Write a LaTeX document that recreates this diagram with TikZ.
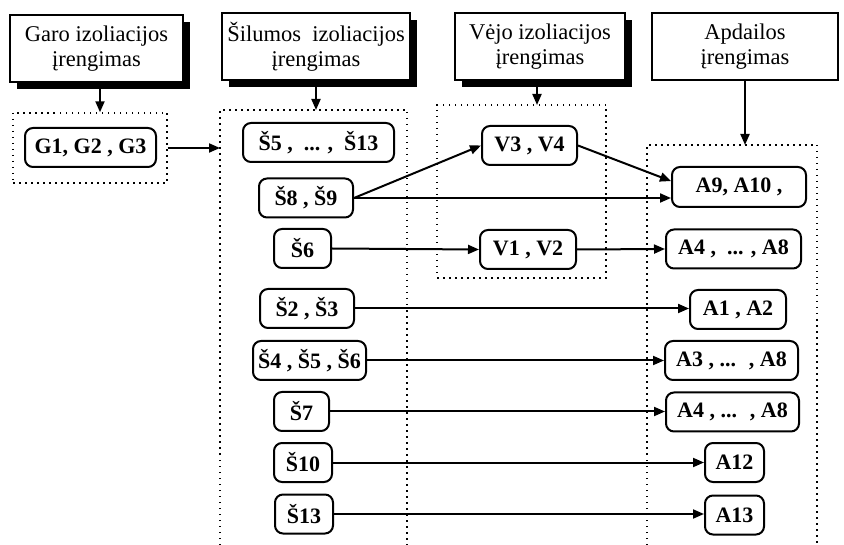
\documentclass[tikz,border=0pt]{standalone}
\usepackage{fontspec}
\setmainfont{Liberation Serif}
\usetikzlibrary{arrows.meta,shadows,calc}
\begin{document}
\begin{tikzpicture}[x=1pt,y=-1pt,
  hdr/.style={draw, line width=1.5pt, fill=white, align=center, inner sep=0pt,
    minimum height=67pt, font=\fontsize{22.5}{25}\selectfont},
  shd/.style={drop shadow={shadow xshift=7pt, shadow yshift=-7pt, fill=black, opacity=1}},
  itm/.style={draw, line width=2pt, rounded corners=8pt, fill=white, inner sep=0pt,
    minimum height=39pt, font=\fontsize{22}{25}\selectfont\bfseries},
  frm/.style={draw, line width=1.4pt, dash pattern=on 1.5pt off 4.5pt},
  arr/.style={line width=2pt, -{Triangle[length=11pt,width=9pt]}}]
\useasboundingbox (0,0) rectangle (844,545);

% headers
\node[hdr,shd,minimum width=173pt] (hG) at (96.5,48.5) {Garo izoliacijos\\įrengimas};
\node[hdr,shd,minimum width=188pt] (hS) at (316,46.5) {Šilumos~ izoliacijos\\įrengimas};
\node[hdr,shd,minimum width=170pt] (hV) at (540,46.5) {Vėjo izoliacijos\\įrengimas};
\node[hdr,minimum width=186pt] (hA) at (745,46.5) {Apdailos\\įrengimas};

% frames
\node[frm,minimum width=154pt,minimum height=70pt,inner sep=0pt] (fG) at (90,148) {};
\node[frm,minimum width=169pt,minimum height=173pt,inner sep=0pt] (fV) at (521.5,191.5) {};
\coordinate (fSt) at (316,110);
\coordinate (fSl) at (220,148);
\coordinate (fAt) at (745,145);
\draw[frm] (220,545) -- (220,110) -- (407,110) -- (407,545);
\draw[frm] (647,545) -- (647,145) -- (817,145) -- (817,545);

% items
\node[itm,minimum width=131pt] (g) at (90.5,147.5) {G1, G2 , G3};
\node[itm,minimum width=151pt] (s513) at (318.5,142.5) {Š5 , ~... , ~Š13};
\node[itm,minimum width=94pt] (s89) at (306,198) {Š8 , Š9};
\node[itm,minimum width=57pt] (s6) at (302.5,248.5) {Š6};
\node[itm,minimum width=94pt] (s23) at (307,308.5) {Š2 , Š3};
\node[itm,minimum width=113pt] (s456) at (309.5,360.5) {Š4 , Š5 , Š6};
\node[itm,minimum width=55pt] (s7) at (301.5,411.5) {Š7};
\node[itm,minimum width=58pt] (s10) at (303,462.5) {Š10};
\node[itm,minimum width=58pt] (s13) at (304,514) {Š13};

\node[itm,minimum width=95pt] (v34) at (529.5,145.5) {V3 , V4};
\node[itm,minimum width=96pt] (v12) at (528,249.5) {V1 , V2};

\node[itm,minimum width=134pt,minimum height=40pt] (a910) at (739,187) {A9, A10 ,};
\node[itm,minimum width=135pt] (a48) at (733.5,249) {A4 , ~... , A8};
\node[itm,minimum width=96pt] (a12) at (738,309.5) {A1 , A2};
\node[itm,minimum width=133pt] (a38) at (731.5,360.5) {A3 , ... ~, A8};
\node[itm,minimum width=133pt] (a48b) at (732.5,412) {A4 , ... ~, A8};
\node[itm,minimum width=59pt] (a12n) at (734.5,462.5) {A12};
\node[itm,minimum width=59pt] (a13) at (734.5,515) {A13};

% arrows
\draw[arr] (hG.south -| 100,0) -- (fG.north -| 100,0);
\draw[arr] (hS.south) -- (fSt);
\draw[arr] (hV.south -| 537,0) -- (537,105);
\draw[arr] (hA.south) -- (fAt);
\draw[arr] (fG.east) -- (fSl);

\draw[arr] (s89.east) -- (v34.west);
\draw[arr] (s89.east) -- (s89.east -| a910.west);
\draw[arr] (v34.east) -- (a910.175);
\draw[arr] (s6.east) -- (v12.west);
\draw[arr] (v12.east) -- (a48.west);
\draw[arr] (s23.east) -- (s23.east -| a12.west);
\draw[arr] (s456.east) -- (s456.east -| a38.west);
\draw[arr] (s7.east) -- (s7.east -| a48b.west);
\draw[arr] (s10.east) -- (s10.east -| a12n.west);
\draw[arr] (s13.east) -- (s13.east -| a13.west);
\end{tikzpicture}
\end{document}
